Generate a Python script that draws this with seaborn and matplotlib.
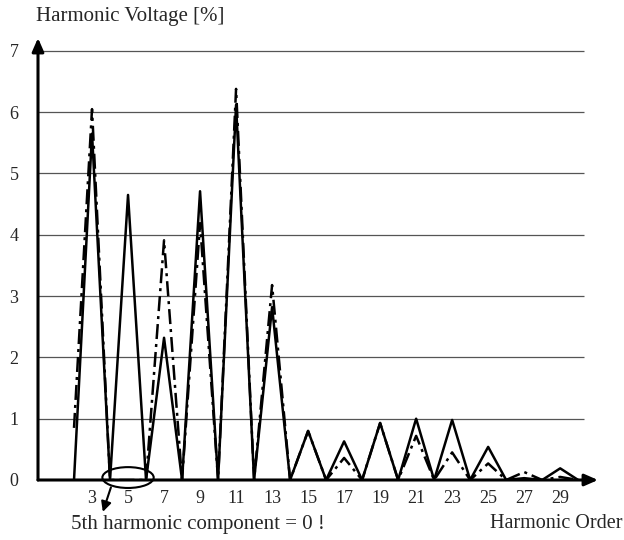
import numpy as np
import pandas as pd
import matplotlib
matplotlib.use("Agg")
import matplotlib.pyplot as plt
from matplotlib.patches import Ellipse
import seaborn as sns

# harmonic orders and voltages [%]
orders = list(range(2, 31))
solid_vals = [0, 5.65, 0, 4.65, 0, 2.32, 0, 4.71, 0, 6.12, 0, 2.82, 0, 0.80, 0,
              0.63, 0, 0.93, 0, 1.00, 0, 0.98, 0, 0.54, 0, 0.03, 0, 0.19, 0]
dashdot_vals = [0.85, 6.05, 0, 0, 0, 3.91, 0, 4.19, 0, 6.38, 0, 3.18, 0, 0.80, 0,
                0.36, 0, 0.93, 0, 0.72, 0, 0.45, 0, 0.27, 0, 0.13, 0, 0.05, 0]
xtick_orders = list(range(3, 30, 2))
ytick_vals = list(range(0, 8))

df = pd.DataFrame({"order": orders, "solid": solid_vals, "dashdot": dashdot_vals})

sns.set_style("white")
plt.rcParams['font.family'] = ['Liberation Serif', 'DejaVu Serif']

fig = plt.figure(figsize=(6.24, 5.4), dpi=100)
ax = fig.add_axes([38 / 624, 60 / 540, 560 / 624, 442 / 540])

# horizontal grid lines
ax.hlines(ytick_vals[1:], 0, 30.3, color="#555555", lw=0.9, zorder=1)

sns.lineplot(data=df, x="order", y="dashdot", ax=ax, color="black", lw=1.8,
             linestyle=(0, (6, 2, 1.2, 2)), zorder=3)
sns.lineplot(data=df, x="order", y="solid", ax=ax, color="black", lw=1.8, zorder=4)

ax.set_xlim(0, 31.1)
ax.set_ylim(0, 7.21)
for s in ax.spines.values():
    s.set_visible(False)

# axis arrows
ax.annotate("", xy=(1.0, 0), xytext=(0, 0), xycoords="axes fraction",
            arrowprops=dict(arrowstyle="-|>,head_length=0.8,head_width=0.35",
                            color="black", lw=2.2, shrinkA=0, shrinkB=0))
ax.annotate("", xy=(0, 1.0), xytext=(0, 0), xycoords="axes fraction",
            arrowprops=dict(arrowstyle="-|>,head_length=0.8,head_width=0.35",
                            color="black", lw=2.2, shrinkA=0, shrinkB=0))

ax.set_xticks(xtick_orders)
ax.set_xticklabels([str(o) for o in xtick_orders])
ax.set_yticks(ytick_vals)
ax.set_yticklabels([str(v) for v in ytick_vals])
ax.tick_params(axis="x", length=0, pad=7, labelsize=13)
ax.tick_params(axis="y", length=0, pad=14, labelsize=13)
ax.set_xlabel("")
ax.set_ylabel("")

fig.text(36 / 624, 1 - 16 / 540, "Harmonic Voltage [%]", fontsize=15,
         ha="left", va="center")
fig.text(622 / 624, 1 - 523 / 540, "Harmonic Order", fontsize=14.5,
         ha="right", va="center")

# 5th harmonic annotation
ell = Ellipse((5, 0.04), 2.85, 0.34, fill=False, edgecolor="black", lw=1.5,
              clip_on=False, zorder=5)
ax.add_patch(ell)
ax.annotate("", xy=(3.6, -0.52), xytext=(4.05, -0.12),
            arrowprops=dict(arrowstyle="-|>,head_length=0.6,head_width=0.3",
                            color="black", lw=1.5, shrinkA=0, shrinkB=0),
            annotation_clip=False)
ax.text(1.83, -0.72, "5th harmonic component = 0 !", fontsize=15,
        ha="left", va="center", clip_on=False)

fig.savefig("out.png", dpi=100)
